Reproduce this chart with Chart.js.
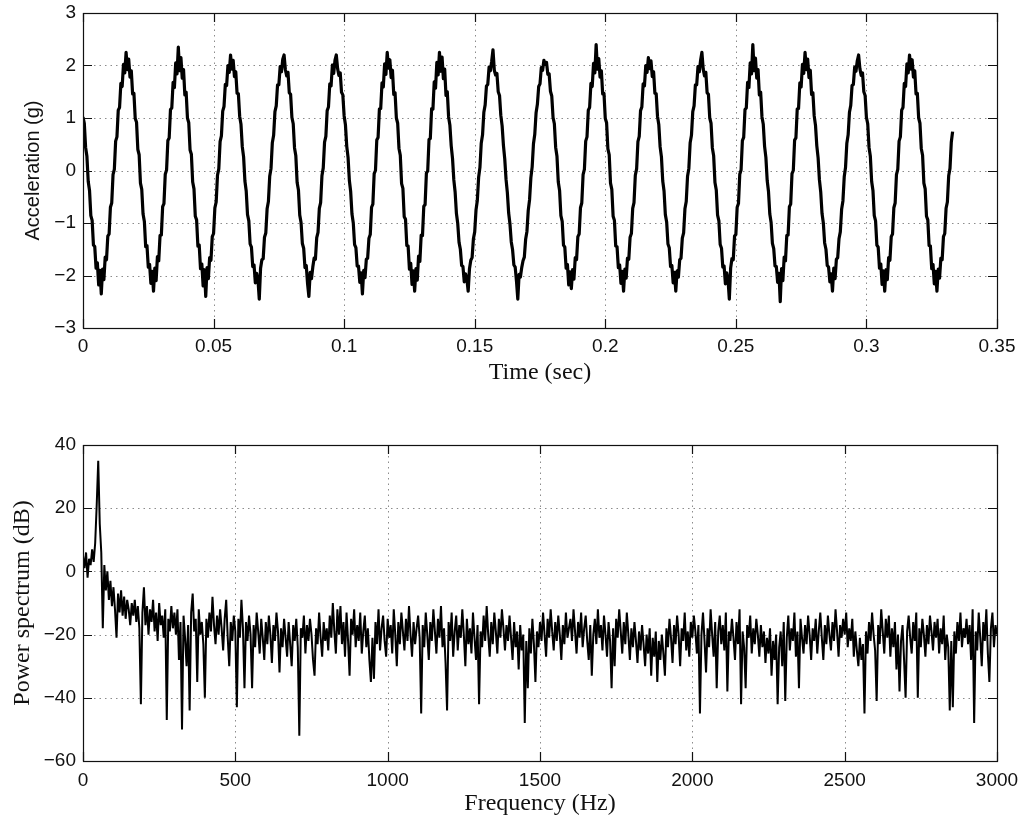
<!DOCTYPE html>
<html><head><meta charset="utf-8">
<script src="https://cdn.jsdelivr.net/npm/chart.js@4.4.1/dist/chart.umd.min.js"></script>
<style>
html,body{margin:0;padding:0;background:#fff;}
#wrap{position:relative;width:1024px;height:828px;background:#fff;}
canvas{position:absolute;left:0;}
#c1{top:0;width:1024px;height:400px;}
#c2{top:430px;width:1024px;height:398px;}
</style></head><body>
<div id="wrap"><canvas id="c1" width="1024" height="400"></canvas><canvas id="c2" width="1024" height="398"></canvas></div>
<script>
// ---- Top panel: acceleration samples (g), one every TIME_STEP_S seconds ----
const TIME_STEP_S = 0.0005;
const accelerationG = [
 1.02,0.90,0.44,0.27,-0.21,-0.38,-0.86,-0.95,-1.42,-1.45,-1.86,-1.76,-2.18,-1.90,-2.35,-1.88,-2.08,-1.65,-1.70,-1.25,
 -1.21,-0.70,-0.62,-0.08,0.02,0.56,0.64,1.15,1.20,1.66,1.60,2.02,1.86,2.25,1.92,2.12,1.78,1.90,1.46,1.47,
 0.99,0.92,0.40,0.30,-0.24,-0.36,-0.83,-0.97,-1.45,-1.43,-1.84,-1.79,-2.15,-1.92,-2.30,-1.86,-2.10,-1.64,-1.72,-1.24,
 -1.23,-0.69,-0.63,-0.07,0.01,0.57,0.62,1.16,1.19,1.68,1.58,2.05,1.84,2.35,1.90,2.15,1.76,1.92,1.44,1.49,
 1.00,0.91,0.39,0.31,-0.22,-0.35,-0.87,-0.94,-1.44,-1.42,-1.87,-1.78,-2.20,-1.89,-2.40,-1.85,-2.06,-1.66,-1.71,-1.26,
 -1.20,-0.71,-0.60,-0.09,0.03,0.55,0.66,1.13,1.22,1.64,1.62,2.00,1.87,2.20,1.93,2.10,1.79,1.88,1.47,1.46,
 1.03,0.88,0.45,0.26,-0.20,-0.39,-0.84,-0.96,-1.40,-1.46,-1.83,-1.80,-2.14,-1.96,-2.08,-2.45,-1.86,-1.70,-1.68,-1.27,
 -1.19,-0.73,-0.59,-0.11,0.04,0.53,0.67,1.12,1.23,1.63,1.63,1.98,1.88,2.12,2.20,1.92,1.80,1.87,1.48,1.45,
 1.01,0.89,0.43,0.28,-0.23,-0.37,-0.85,-0.99,-1.39,-1.48,-1.85,-1.81,-2.16,-2.40,-1.94,-2.06,-1.84,-1.67,-1.69,-1.28,
 -1.18,-0.72,-0.61,-0.10,0.05,0.54,0.65,1.14,1.21,1.65,1.61,2.01,1.85,2.10,2.20,1.94,1.81,1.86,1.49,1.44,
 1.04,0.87,0.46,0.25,-0.19,-0.40,-0.83,-1.00,-1.41,-1.47,-1.82,-1.82,-2.13,-1.95,-2.35,-1.90,-2.04,-1.69,-1.67,-1.29,
 -1.22,-0.70,-0.64,-0.06,0.00,0.58,0.63,1.17,1.18,1.67,1.59,2.03,1.83,2.25,1.95,2.11,1.77,1.91,1.45,1.48,
 1.00,0.90,0.42,0.29,-0.25,-0.34,-0.88,-0.93,-1.43,-1.44,-1.88,-1.77,-2.17,-1.91,-2.30,-1.87,-2.09,-1.63,-1.73,-1.23,
 -1.24,-0.68,-0.65,-0.05,-0.01,0.59,0.61,1.18,1.17,1.69,1.57,2.06,1.82,2.25,1.89,2.16,1.75,1.93,1.43,1.50,
 1.02,0.86,0.47,0.23,-0.18,-0.41,-0.82,-1.01,-1.37,-1.50,-1.81,-1.83,-2.12,-1.97,-2.07,-2.30,-1.87,-1.71,-1.66,-1.30,
 -1.17,-0.75,-0.57,-0.13,0.06,0.52,0.68,1.11,1.25,1.61,1.64,1.97,1.90,2.08,2.30,1.91,1.82,1.85,1.50,1.43,
 1.05,0.85,0.48,0.22,-0.17,-0.42,-0.81,-1.02,-1.36,-1.51,-1.80,-1.84,-2.11,-2.45,-1.98,-2.03,-1.85,-1.72,-1.65,-1.31,
 -1.16,-0.76,-0.56,-0.14,0.07,0.51,0.69,1.10,1.26,1.60,1.65,1.96,1.91,2.10,2.02,2.06,1.83,1.84,1.51,1.42,
 1.01,0.89,0.44,0.27,-0.22,-0.38,-0.86,-0.97,-1.42,-1.46,-1.86,-1.79,-2.18,-1.93,-2.25,-1.89,-2.07,-1.66,-1.70,-1.26,
 -1.21,-0.71,-0.62,-0.08,0.02,0.56,0.64,1.15,1.20,1.66,1.60,2.04,1.86,2.40,1.93,2.13,1.78,1.90,1.46,1.47,
 0.99,0.91,0.41,0.30,-0.24,-0.36,-0.87,-0.95,-1.44,-1.45,-1.85,-1.80,-2.15,-1.92,-2.30,-1.88,-2.05,-1.67,-1.69,-1.27,
 -1.20,-0.72,-0.61,-0.09,0.03,0.55,0.65,1.14,1.21,1.65,1.61,2.00,1.87,2.15,1.94,2.09,1.79,1.88,1.47,1.46,
 1.03,0.87,0.45,0.26,-0.20,-0.39,-0.84,-0.98,-1.40,-1.47,-1.83,-1.81,-2.14,-1.94,-2.30,-1.91,-2.03,-1.70,-1.67,-1.29,
 -1.19,-0.73,-0.59,-0.11,0.04,0.53,0.67,1.12,1.23,1.63,1.63,1.98,1.88,2.10,2.25,1.93,1.80,1.87,1.48,1.45,
 1.00,0.90,0.43,0.28,-0.23,-0.37,-0.85,-0.96,-1.41,-1.48,-1.84,-1.82,-2.16,-1.95,-2.08,-2.45,-1.86,-1.68,-1.70,-1.25,
 -1.22,-0.70,-0.63,-0.07,0.01,0.57,0.63,1.16,1.19,1.68,1.58,2.05,1.84,2.40,1.90,2.14,1.76,1.92,1.44,1.49,
 1.02,0.88,0.46,0.25,-0.19,-0.40,-0.83,-0.99,-1.39,-1.49,-1.82,-1.83,-2.13,-1.96,-2.50,-1.87,-2.10,-1.65,-1.72,-1.24,
 -1.23,-0.69,-0.64,-0.06,0.00,0.58,0.62,1.17,1.18,1.67,1.59,2.02,1.85,2.25,1.92,2.12,1.77,1.91,1.45,1.48,
 1.04,0.86,0.47,0.24,-0.18,-0.41,-0.82,-1.00,-1.38,-1.50,-1.81,-1.84,-2.12,-1.97,-2.30,-1.86,-2.06,-1.69,-1.66,-1.30,
 -1.17,-0.74,-0.58,-0.12,0.06,0.52,0.68,1.11,1.24,1.62,1.64,1.97,1.89,2.09,2.20,1.94,1.81,1.86,1.50,1.43,
 1.01,0.89,0.44,0.27,-0.21,-0.38,-0.86,-0.96,-1.42,-1.46,-1.86,-1.78,-2.17,-1.91,-2.30,-1.89,-2.08,-1.66,-1.71,-1.26,
 -1.21,-0.71,-0.62,-0.08,0.02,0.56,0.64,1.15,1.20,1.66,1.60,2.03,1.86,2.20,1.93,2.11,1.78,1.90,1.46,1.47,
 1.00,0.90,0.42,0.29,-0.24,-0.35,-0.87,-0.94,-1.43,-1.44,-1.87,-1.79,-2.16,-1.92,-2.30,-1.88,-2.05,-1.67,-1.70,-1.26,
 -1.20,-0.72,-0.60,-0.10,0.04,0.54,0.74
];
const timeTicks = [0, 0.05, 0.1, 0.15, 0.2, 0.25, 0.3, 0.35];
const timeTickLabels = ['0', '0.05', '0.1', '0.15', '0.2', '0.25', '0.3', '0.35'];
const accelTicks = [-3, -2, -1, 0, 1, 2, 3];
const accelTickLabels = ['\u22123', '\u22122', '\u22121', '0', '1', '2', '3'];

// ---- Bottom panel: power spectrum (dB), one bin every FREQ_STEP_HZ ----
const FREQ_STEP_HZ = 5;
const powerDb = [
 5,1,6,-2,4,2,7,3,9,21,35,15,6,-18,2,-6,0,-9,-3,-11,
 -5,-12,-21,-7,-13,-6,-14,-8,-15,-9,-12,-17,-10,-14,-9,-16,-11,-18,-42,-13,
 -5,-17,-11,-20,-12,-16,-9,-19,-13,-22,-10,-17,-14,-21,-12,-47,-15,-19,-11,-18,
 -13,-20,-12,-28,-16,-50,-14,-21,-30,-17,-44,-13,-7,-19,-15,-35,-12,-20,-16,-23,
 -40,-15,-21,-13,-19,-8,-17,-23,-14,-20,-12,-18,-25,-15,-9,-21,-30,-16,-22,-14,
 -19,-43,-15,-21,-9,-18,-37,-16,-22,-14,-20,-37,-17,-24,-13,-19,-26,-15,-21,-28,
 -16,-23,-14,-20,-29,-17,-22,-13,-19,-32,-18,-24,-15,-21,-27,-16,-23,-30,-17,-22,
 -15,-24,-52,-18,-21,-14,-26,-17,-22,-15,-20,-28,-33,-18,-23,-13,-21,-27,-16,-22,
 -18,-25,-14,-21,-10,-19,-26,-12,-20,-11,-23,-16,-27,-13,-22,-33,-15,-20,-12,-24,
 -17,-22,-13,-26,-19,-14,-24,-18,-28,-35,-21,-34,-16,-23,-12,-25,-18,-14,-22,-27,
 -15,-21,-17,-26,-12,-20,-30,-16,-23,-13,-19,-25,-15,-22,-11,-20,-27,-16,-23,-18,
 -14,-21,-45,-17,-24,-13,-20,-28,-16,-22,-12,-19,-26,-15,-21,-11,-24,-18,-29,-44,
 -16,-22,-13,-27,-19,-14,-25,-17,-21,-12,-20,-30,-15,-23,-18,-26,-13,-21,-28,-17,
 -42,-19,-24,-14,-22,-11,-20,-27,-16,-23,-13,-19,-26,-15,-21,-12,-18,-25,-17,-22,
 -14,-21,-28,-16,-24,-19,-31,-17,-25,-20,-48,-22,-37,-18,-26,-15,-23,-35,-19,-24,
 -16,-22,-13,-20,-27,-15,-21,-12,-19,-25,-16,-22,-14,-20,-28,-17,-23,-13,-21,-18,
 -15,-22,-12,-19,-26,-16,-21,-13,-24,-18,-14,-22,-28,-17,-33,-20,-15,-23,-12,-21,
 -17,-25,-14,-20,-27,-16,-22,-37,-18,-30,-15,-21,-12,-19,-26,-16,-23,-13,-20,-28,
 -18,-24,-16,-22,-29,-19,-25,-17,-23,-30,-20,-26,-18,-33,-21,-27,-19,-35,-22,-28,
 -20,-26,-33,-18,-24,-15,-21,-29,-17,-23,-14,-20,-30,-18,-22,-13,-25,-19,-27,-16,
 -21,-14,-19,-26,-17,-45,-20,-13,-22,-32,-18,-24,-12,-20,-27,-16,-37,-19,-14,-23,
 -17,-25,-13,-38,-19,-22,-15,-21,-28,-16,-23,-12,-42,-19,-24,-37,-17,-21,-14,-26,
 -18,-23,-15,-20,-27,-17,-24,-19,-29,-21,-26,-18,-33,-22,-28,-20,-42,-24,-19,-30,
 -16,-41,-21,-14,-25,-18,-22,-13,-27,-19,-37,-15,-21,-26,-17,-23,-14,-20,-28,-18,
 -22,-15,-26,-19,-13,-21,-28,-17,-23,-14,-20,-25,-16,-22,-12,-19,-27,-17,-21,-15,
 -20,-13,-24,-18,-22,-15,-27,-19,-25,-30,-21,-28,-23,-45,-19,-26,-16,-22,-13,-20,
 -25,-41,-17,-23,-12,-19,-26,-15,-21,-14,-27,-18,-24,-16,-31,-20,-38,-22,-17,-28,
 -40,-19,-14,-21,-26,-16,-22,-13,-40,-18,-24,-15,-20,-27,-17,-23,-14,-19,-25,-16,
 -21,-15,-26,-18,-23,-14,-28,-20,-24,-44,-22,-43,-19,-26,-16,-22,-13,-24,-18,-21,
 -15,-23,-17,-28,-12,-48,-19,-25,-13,-21,-30,-16,-22,-12,-26,-35,-18,-13,-24,-17,
 -20
];
const freqTicks = [0, 500, 1000, 1500, 2000, 2500, 3000];
const freqTickLabels = ['0', '500', '1000', '1500', '2000', '2500', '3000'];
const powerTicks = [-60, -40, -20, 0, 20, 40];
const powerTickLabels = ['\u221260', '\u221240', '\u221220', '0', '20', '40'];

// ---- drawing helpers ----
const SANS = '"Liberation Sans", Arial, Helvetica, sans-serif';
const SERIF = '"Liberation Serif", "Times New Roman", Times, serif';

const matlabFrame = {
  id: 'matlabFrame',
  beforeDatasetsDraw(chart) {
    const {ctx, chartArea: a, scales: {x, y}} = chart;
    ctx.save();
    ctx.strokeStyle = '#8c8c8c';
    ctx.lineWidth = 1;
    ctx.setLineDash([1.5, 4]);
    x.ticks.forEach(t => {
      if (t.value <= x.min || t.value >= x.max) return;
      const px = Math.round(x.getPixelForValue(t.value)) + 0.5;
      ctx.beginPath(); ctx.moveTo(px, a.top); ctx.lineTo(px, a.bottom); ctx.stroke();
    });
    y.ticks.forEach(t => {
      if (t.value <= y.min || t.value >= y.max) return;
      const py = Math.round(y.getPixelForValue(t.value)) + 0.5;
      ctx.beginPath(); ctx.moveTo(a.left, py); ctx.lineTo(a.right, py); ctx.stroke();
    });
    ctx.restore();
  },
  afterDatasetsDraw(chart) {
    const {ctx, chartArea: a, scales: {x, y}} = chart;
    const L = 9;
    ctx.save();
    ctx.setLineDash([]);
    ctx.strokeStyle = '#111';
    ctx.lineWidth = 1.2;
    ctx.strokeRect(Math.round(a.left) + 0.5, Math.round(a.top) + 0.5, Math.round(a.right - a.left), Math.round(a.bottom - a.top));
    ctx.beginPath();
    x.ticks.forEach(t => {
      const px = Math.round(x.getPixelForValue(t.value)) + 0.5;
      ctx.moveTo(px, a.bottom); ctx.lineTo(px, a.bottom - L);
      ctx.moveTo(px, a.top); ctx.lineTo(px, a.top + L);
    });
    y.ticks.forEach(t => {
      const py = Math.round(y.getPixelForValue(t.value)) + 0.5;
      ctx.moveTo(a.left, py); ctx.lineTo(a.left + L, py);
      ctx.moveTo(a.right, py); ctx.lineTo(a.right - L, py);
    });
    ctx.stroke();
    ctx.restore();
  }
};

function makeAxis(ticks, labels, min, max, opts) {
  return Object.assign({
    type: 'linear', min, max,
    grid: {display: false, drawTicks: false},
    border: {display: false},
    afterBuildTicks: s => { s.ticks = ticks.map(v => ({value: v})); }
  }, opts);
}

function buildChart(canvasId, points, lineWidth, joinStyle, xAxis, yAxis, pad) {
  return new Chart(document.getElementById(canvasId), {
    type: 'line',
    data: {datasets: [{
      data: points, borderColor: '#000', borderWidth: lineWidth,
      pointRadius: 0, tension: 0, fill: false, borderJoinStyle: joinStyle
    }]},
    options: {
      responsive: false, animation: false, devicePixelRatio: 1,
      layout: {padding: pad},
      plugins: {legend: {display: false}, tooltip: {enabled: false}},
      scales: {x: xAxis, y: yAxis}
    },
    plugins: [matlabFrame]
  });
}

const accelPoints = accelerationG.map((v, i) => ({x: i * TIME_STEP_S, y: v}));
const powerPoints = powerDb.map((v, i) => ({x: i * FREQ_STEP_HZ, y: v}));

const fitX = h => s => { s.height = h; s.paddingLeft = 0; s.paddingRight = 0; };
const fitY = w => s => { s.width = w; s.paddingTop = 0; s.paddingBottom = 0; };

buildChart('c1', accelPoints, 3.2, 'round',
  makeAxis(timeTicks, timeTickLabels, 0, 0.35, {
    afterFit: fitX(72),
    title: {display: true, text: 'Time (sec)', color: '#111', font: {family: SERIF, size: 24}, padding: {top: 0, bottom: 13}},
    ticks: {autoSkip: false, maxRotation: 0, color: '#111', padding: 7, font: {family: SANS, size: 19}, callback: (v, i) => timeTickLabels[i]}
  }),
  makeAxis(accelTicks, accelTickLabels, -3, 3, {
    afterFit: fitY(83),
    title: {display: true, text: 'Acceleration (g)', color: '#111', font: {family: SANS, size: 20}, padding: {top: 21, bottom: 0}},
    ticks: {autoSkip: false, color: '#111', padding: 7, font: {family: SANS, size: 19}, callback: (v, i) => accelTickLabels[i]}
  }),
  {top: 13, right: 27, left: 0, bottom: 0});

buildChart('c2', powerPoints, 2, 'bevel',
  makeAxis(freqTicks, freqTickLabels, 0, 3000, {
    afterFit: fitX(67),
    title: {display: true, text: 'Frequency (Hz)', color: '#111', font: {family: SERIF, size: 24}, padding: {top: 0, bottom: 10}},
    ticks: {autoSkip: false, maxRotation: 0, color: '#111', padding: 8, font: {family: SANS, size: 19}, callback: (v, i) => freqTickLabels[i]}
  }),
  makeAxis(powerTicks, powerTickLabels, -60, 40, {
    afterFit: fitY(83),
    title: {display: true, text: 'Power spectrum (dB)', color: '#111', font: {family: SERIF, size: 24}, padding: {top: 8, bottom: 0}},
    ticks: {autoSkip: false, color: '#111', padding: 7, font: {family: SANS, size: 19}, callback: (v, i) => powerTickLabels[i]}
  }),
  {top: 15, right: 27, left: 0, bottom: 0});
</script>
</body></html>
